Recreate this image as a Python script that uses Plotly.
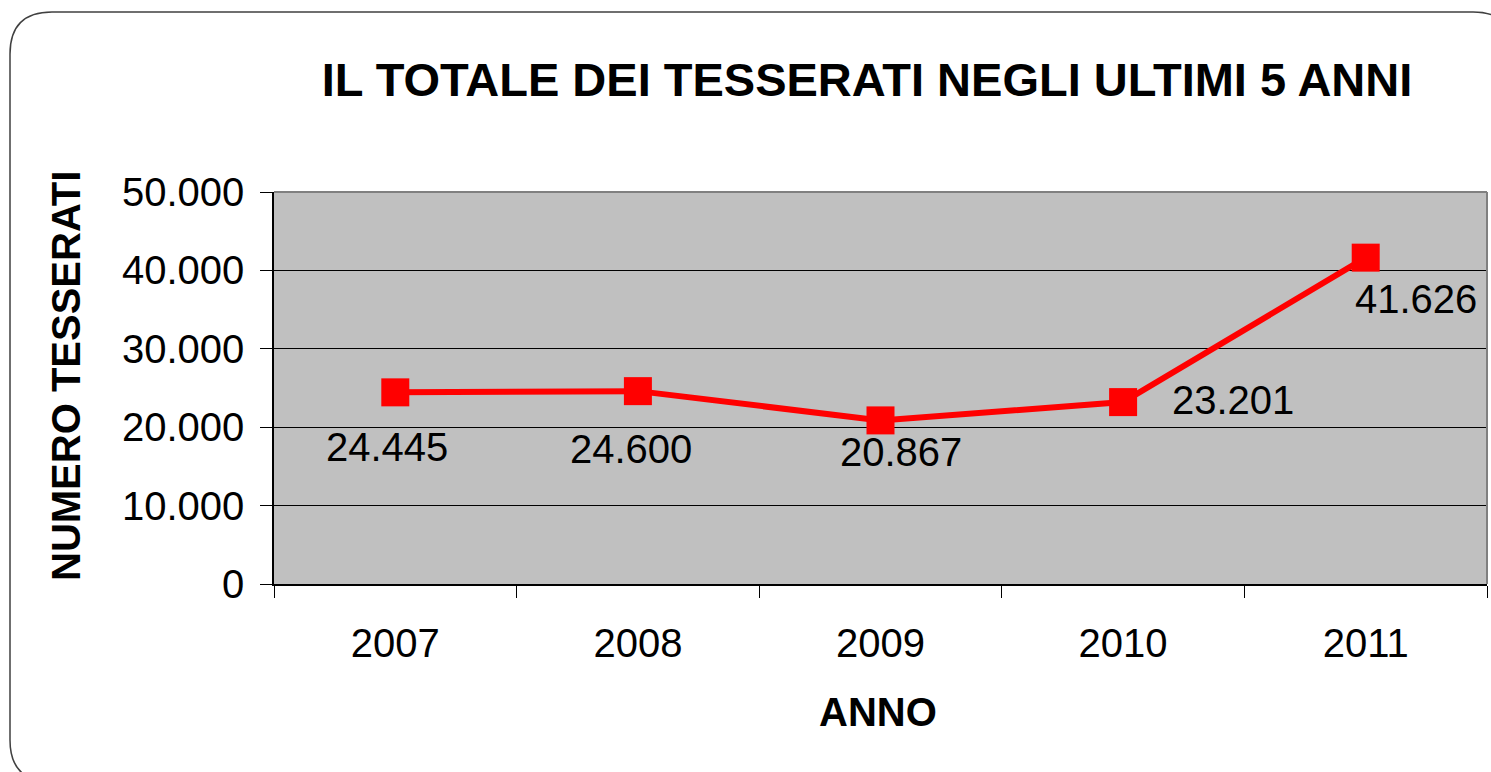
import plotly.graph_objects as go

# ---- data ----
anni = ["2007", "2008", "2009", "2010", "2011"]
tesserati = [24445, 24600, 20867, 23201, 41626]
y_ticks = [0, 10000, 20000, 30000, 40000, 50000]

# label offsets (pixels) as placed in the reference
label_dx = [-8, -7, 20, 110, 50]
label_dy = [55, 58, 32, -2, 41]

FONT = "Liberation Sans, Arial, sans-serif"

# layout geometry (pixels)
W, H = 1491, 772
L, R, T, B = 274, 4, 192, 188
PW, PH = W - L - R, H - T - B


def px(x):
    return (x - L) / PW


def py(y):
    return (H - B - y) / PH


fig = go.Figure()
fig.add_trace(go.Scatter(
    x=anni, y=tesserati, mode="lines+markers",
    line=dict(color="#FF0000", width=6),
    marker=dict(symbol="square", size=28, color="#FF0000"),
    hoverinfo="skip", showlegend=False,
))

annotations = []
for i, (v, dx, dy) in enumerate(zip(tesserati, label_dx, label_dy)):
    annotations.append(dict(
        x=i, y=v, xref="x", yref="y", text=f"{v:,}".replace(",", "."),
        showarrow=False, xshift=dx, yshift=-dy,
        font=dict(family=FONT, size=40, color="#000000"),
        xanchor="center", yanchor="middle",
    ))

annotations.append(dict(
    x=px(878), y=py(712), xref="paper", yref="paper", text="ANNO",
    showarrow=False, xanchor="center", yanchor="middle",
    font=dict(family=FONT, size=40, color="#000000", weight="bold"),
))
annotations.append(dict(
    x=px(66), y=py(376), xref="paper", yref="paper", text="NUMERO TESSERATI",
    showarrow=False, xanchor="center", yanchor="middle", textangle=-90,
    font=dict(family=FONT, size=40, color="#000000", weight="bold"),
))

# rounded outer frame
lx, tx_, rx, bx, r = 10, 12, 1515, 782, 42
path = (
    f"M {px(lx)},{py(tx_ + r)} Q {px(lx)},{py(tx_)} {px(lx + r)},{py(tx_)} "
    f"L {px(rx - r)},{py(tx_)} Q {px(rx)},{py(tx_)} {px(rx)},{py(tx_ + r)} "
    f"L {px(rx)},{py(bx - r)} Q {px(rx)},{py(bx)} {px(rx - r)},{py(bx)} "
    f"L {px(lx + r)},{py(bx)} Q {px(lx)},{py(bx)} {px(lx)},{py(bx - r)} Z"
)
shapes = [
    dict(type="path", path=path, xref="paper", yref="paper",
         line=dict(color="#404040", width=1.5), layer="above"),
    dict(type="line", xref="paper", yref="paper", x0=0, x1=1, y0=1, y1=1,
         line=dict(color="#808080", width=2)),
    dict(type="line", xref="paper", yref="paper", x0=1, x1=1, y0=0, y1=1,
         line=dict(color="#808080", width=2)),
]

fig.update_layout(
    width=W, height=H,
    margin=dict(l=L, r=R, t=T, b=B, autoexpand=False),
    paper_bgcolor="#FFFFFF", plot_bgcolor="#C0C0C0",
    separators=",.",
    title=dict(
        text="IL TOTALE DEI TESSERATI NEGLI ULTIMI 5 ANNI",
        x=px(867), xref="paper", xanchor="center",
        y=1 - 80 / H, yref="container", yanchor="middle",
        font=dict(family=FONT, size=47, color="#000000", weight="bold"),
    ),
    xaxis=dict(
        type="category", range=[-0.5, 4.5], tickson="boundaries",
        ticks="outside", ticklen=12, tickcolor="#000000", tickwidth=1,
        showline=True, linecolor="#000000", linewidth=1.5,
        showgrid=False, zeroline=False, ticklabelstandoff=23,
        tickfont=dict(family=FONT, size=40, color="#000000"),
    ),
    yaxis=dict(
        range=[0, 50000], tickvals=y_ticks, tickformat=",d",
        ticks="outside", ticklen=12, tickcolor="#000000", tickwidth=1,
        showline=True, linecolor="#000000", linewidth=1.5,
        showgrid=True, gridcolor="#000000", gridwidth=1, zeroline=False,
        ticklabelstandoff=8,
        tickfont=dict(family=FONT, size=40, color="#000000"),
    ),
    annotations=annotations,
    shapes=shapes,
)

fig.write_html(
    "out.html",
    config={"displayModeBar": False},
    post_script="document.body.style.margin='0';document.body.style.overflow='hidden';",
)
